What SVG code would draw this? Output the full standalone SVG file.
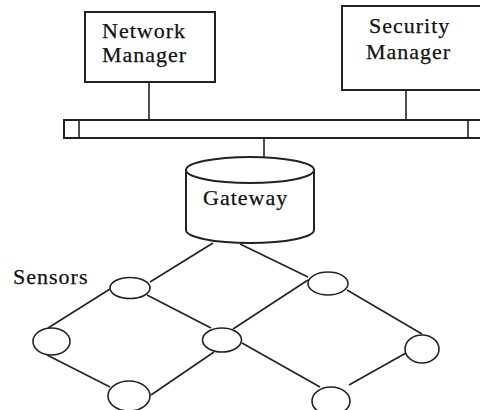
<svg xmlns="http://www.w3.org/2000/svg" width="480" height="410" viewBox="0 0 480 410">
<style>
.box{fill:#fff;stroke:#222;stroke-width:2}
.ln{fill:none;stroke:#222;stroke-width:1.6}
.sn{fill:#fff;stroke:#222;stroke-width:1.6}
.t{font-family:"Liberation Serif","Times New Roman",serif;font-size:22px;fill:#111;letter-spacing:1px;stroke:#111;stroke-width:0.25}
</style>
<rect width="480" height="410" fill="#fff"/>
<g id="connectors">
<line class="ln" x1="149" y1="82" x2="149" y2="120"/>
<line class="ln" x1="406" y1="90" x2="406" y2="120"/>
<line class="ln" x1="264" y1="138" x2="264" y2="157"/>
<line class="ln" x1="213" y1="243" x2="150" y2="282"/>
<line class="ln" x1="240" y1="244" x2="308" y2="277"/>
<line class="ln" x1="110" y1="289" x2="48" y2="328"/>
<line class="ln" x1="147" y1="295" x2="211" y2="328"/>
<line class="ln" x1="47" y1="355" x2="110" y2="387"/>
<line class="ln" x1="151" y1="395" x2="214" y2="352"/>
<line class="ln" x1="233" y1="329" x2="308" y2="280"/>
<line class="ln" x1="242" y1="343" x2="320" y2="387"/>
<line class="ln" x1="347" y1="290" x2="422" y2="334"/>
<line class="ln" x1="406" y1="353" x2="349" y2="385"/>
</g>
<g id="network-manager">
<rect class="box" x="85" y="12" width="130" height="70"/>
<text class="t" x="102" y="38">Network</text>
<text class="t" x="102" y="62">Manager</text>
</g>
<g id="security-manager">
<rect class="box" x="342" y="6" width="150" height="84"/>
<text class="t" x="369" y="33">Security</text>
<text class="t" x="366" y="59">Manager</text>
</g>
<g id="bus">
<rect class="box" x="64" y="120" width="420" height="18"/>
<line class="ln" x1="79" y1="120" x2="79" y2="138" stroke-width="2"/>
<line class="ln" x1="468" y1="120" x2="468" y2="138" stroke-width="2"/>
</g>
<g id="gateway">
<path class="box" d="M186,170 L186,230 A64,13 0 0 0 314,230 L314,170"/>
<ellipse class="box" cx="250" cy="170" rx="64" ry="13"/>
<text class="t" x="203" y="205">Gateway</text>
</g>
<g id="sensors-label">
<text class="t" x="13" y="284">Sensors</text>
</g>
<g id="sensor-a"><ellipse class="sn" cx="130" cy="288" rx="20" ry="10.5"/></g>
<g id="sensor-b"><ellipse class="sn" cx="51.5" cy="341.5" rx="18.5" ry="13.5"/></g>
<g id="sensor-c"><ellipse class="sn" cx="129" cy="396" rx="21" ry="15"/></g>
<g id="sensor-d"><ellipse class="sn" cx="222" cy="340" rx="19.5" ry="12"/></g>
<g id="sensor-e"><ellipse class="sn" cx="328" cy="283.5" rx="20" ry="11.5"/></g>
<g id="sensor-f"><ellipse class="sn" cx="422" cy="349" rx="17" ry="14"/></g>
<g id="sensor-g"><ellipse class="sn" cx="331" cy="401" rx="19" ry="14"/></g>
</svg>
